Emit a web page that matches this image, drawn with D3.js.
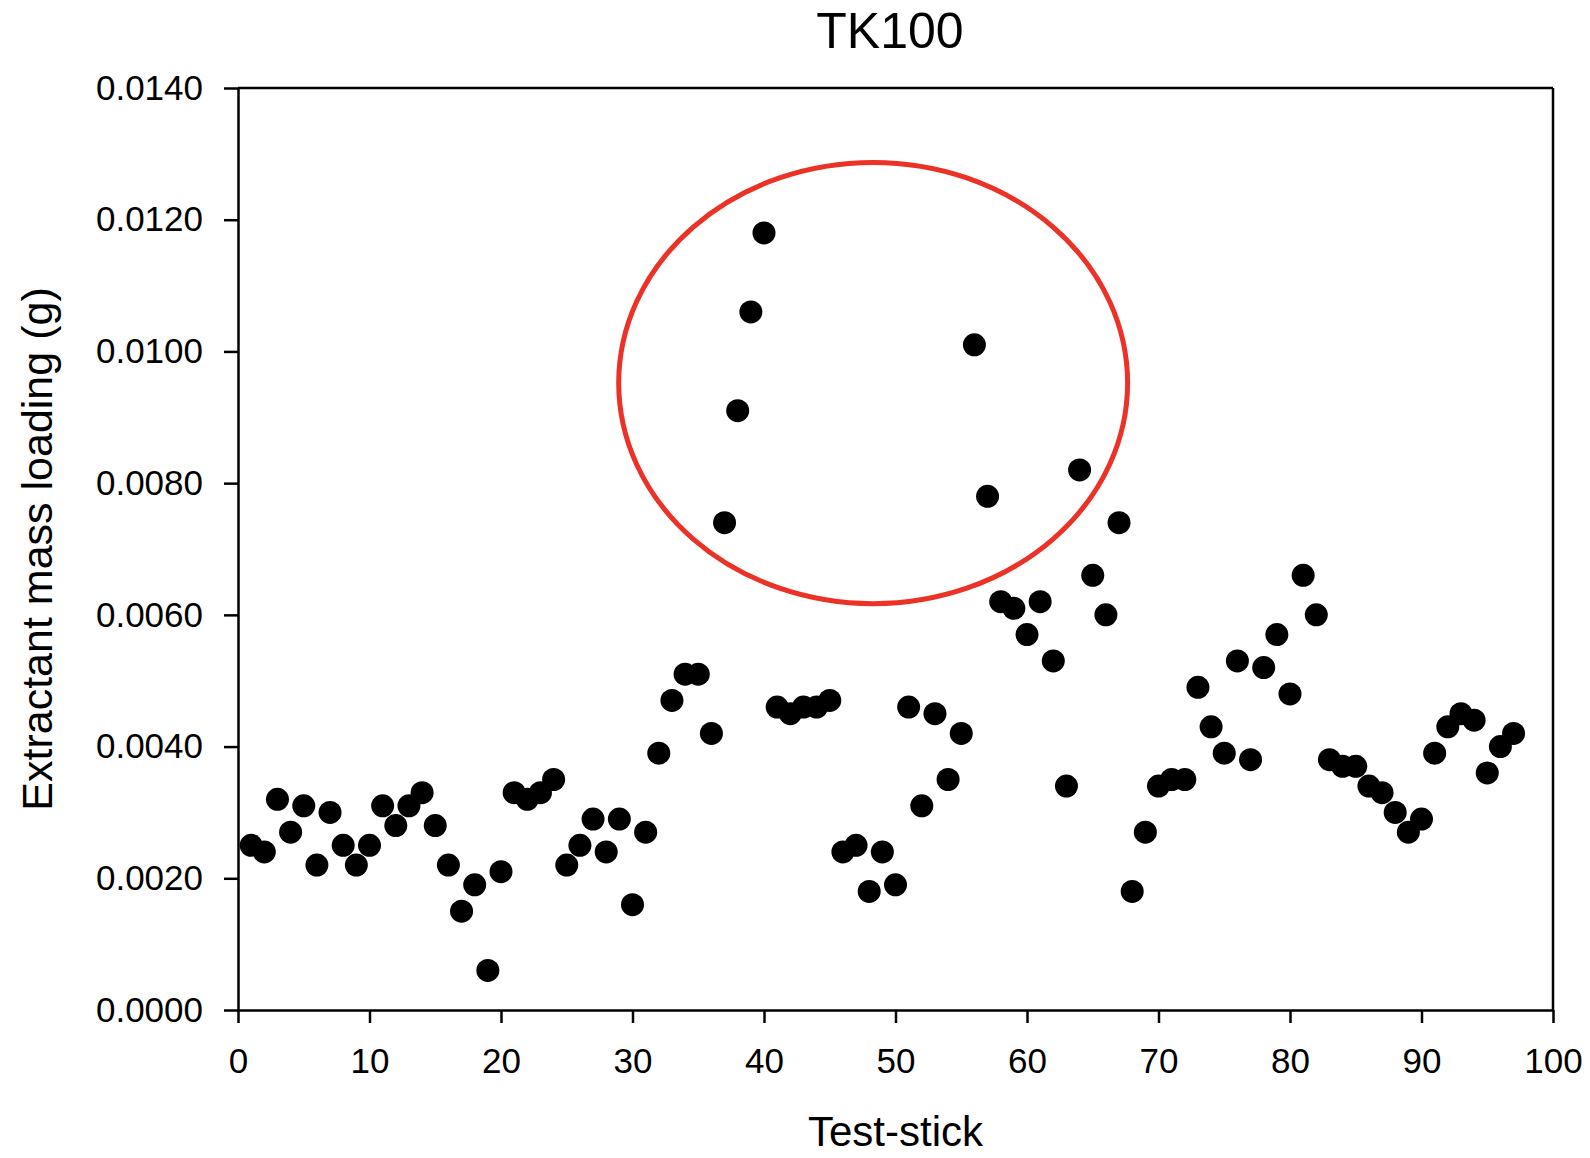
<!DOCTYPE html>
<html>
<head>
<meta charset="utf-8">
<script src="https://cdn.jsdelivr.net/npm/d3@7"></script>
<style>
  body { margin: 0; background: #fff; }
  svg { font-family: "Liberation Sans", Arial, sans-serif; }
</style>
</head>
<body>
<svg></svg>
<script>
// Data
const testStick = d3.range(1, 98);
const massLoading = [
  0.0025, 0.0024, 0.0032, 0.0027, 0.0031, 0.0022, 0.0030, 0.0025, 0.0022, 0.0025,
  0.0031, 0.0028, 0.0031, 0.0033, 0.0028, 0.0022, 0.0015, 0.0019, 0.0006, 0.0021,
  0.0033, 0.0032, 0.0033, 0.0035, 0.0022, 0.0025, 0.0029, 0.0024, 0.0029, 0.0016,
  0.0027, 0.0039, 0.0047, 0.0051, 0.0051, 0.0042, 0.0074, 0.0091, 0.0106, 0.0118,
  0.0046, 0.0045, 0.0046, 0.0046, 0.0047, 0.0024, 0.0025, 0.0018, 0.0024, 0.0019,
  0.0046, 0.0031, 0.0045, 0.0035, 0.0042, 0.0101, 0.0078, 0.0062, 0.0061, 0.0057,
  0.0062, 0.0053, 0.0034, 0.0082, 0.0066, 0.0060, 0.0074, 0.0018, 0.0027, 0.0034,
  0.0035, 0.0035, 0.0049, 0.0043, 0.0039, 0.0053, 0.0038, 0.0052, 0.0057, 0.0048,
  0.0066, 0.0060, 0.0038, 0.0037, 0.0037, 0.0034, 0.0033, 0.0030, 0.0027, 0.0029,
  0.0039, 0.0043, 0.0045, 0.0044, 0.0036, 0.0040, 0.0042
];
const xTicks = [0, 10, 20, 30, 40, 50, 60, 70, 80, 90, 100];
const yTicks = [0, 0.002, 0.004, 0.006, 0.008, 0.010, 0.012, 0.014];

// highlighted region (data units): centre x, centre y, radius x, radius y
const highlight = { cx: 48.3, cy: 0.00952, rx: 19.35, ry: 0.00335 };

const width = 1590;
const height = 1158;
const margin = { top: 88, right: 37, bottom: 148, left: 238 };

const svg = d3.select("svg")
  .attr("width", width)
  .attr("height", height);

const x = d3.scaleLinear()
  .domain([0, 100])
  .range([margin.left, width - margin.right]);

const y = d3.scaleLinear()
  .domain([0, 0.014])
  .range([height - margin.bottom, margin.top]);

// top and right frame lines
svg.append("line")
  .attr("x1", x(0)).attr("x2", x(100))
  .attr("y1", y(0.014)).attr("y2", y(0.014))
  .attr("stroke", "#000").attr("stroke-width", 2.5);
svg.append("line")
  .attr("x1", x(100)).attr("x2", x(100))
  .attr("y1", y(0.014)).attr("y2", y(0))
  .attr("stroke", "#000").attr("stroke-width", 2.5);

// Axes
const xAxis = svg.append("g")
  .attr("transform", `translate(0, ${y(0)})`)
  .call(d3.axisBottom(x).tickValues(xTicks).tickSize(13).tickSizeOuter(0).tickPadding(25));

const yAxis = svg.append("g")
  .attr("transform", `translate(${x(0)}, 0)`)
  .call(d3.axisLeft(y).tickValues(yTicks).tickSize(14).tickSizeOuter(0).tickPadding(21)
    .tickFormat(d3.format(".4f")));

[xAxis, yAxis].forEach(g => {
  g.select(".domain").attr("stroke-width", 2.5);
  g.selectAll(".tick line").attr("stroke-width", 2.5);
  g.selectAll(".tick text")
    .attr("fill", "#000")
    .style("font-family", "'Liberation Sans', Arial, sans-serif")
    .style("font-size", "35px");
});
xAxis.selectAll(".tick text").attr("dy", "0.71em");

// Points
svg.selectAll(".dot")
  .data(testStick)
  .enter()
  .append("circle")
  .attr("class", "dot")
  .attr("cx", (d, i) => x(d))
  .attr("cy", (d, i) => y(massLoading[i]))
  .attr("r", 11.5)
  .attr("fill", "#000");

// Red ellipse round the high values
svg.append("ellipse")
  .attr("cx", x(highlight.cx))
  .attr("cy", y(highlight.cy))
  .attr("rx", x(highlight.cx + highlight.rx) - x(highlight.cx))
  .attr("ry", y(highlight.cy - highlight.ry) - y(highlight.cy))
  .attr("fill", "none")
  .attr("stroke", "#ec3226")
  .attr("stroke-width", 5);

// Title
svg.append("text")
  .attr("x", 890)
  .attr("y", 48)
  .attr("text-anchor", "middle")
  .style("font-size", "50px")
  .text("TK100");

// Labels
svg.append("text")
  .attr("x", (x(0) + x(100)) / 2)
  .attr("y", 1146)
  .attr("text-anchor", "middle")
  .style("font-size", "42px")
  .text("Test-stick");

svg.append("text")
  .attr("x", -(y(0) + y(0.014)) / 2)
  .attr("y", 52)
  .attr("text-anchor", "middle")
  .attr("transform", "rotate(-90)")
  .style("font-size", "43px")
  .text("Extractant mass loading (g)");
</script>
</body>
</html>
